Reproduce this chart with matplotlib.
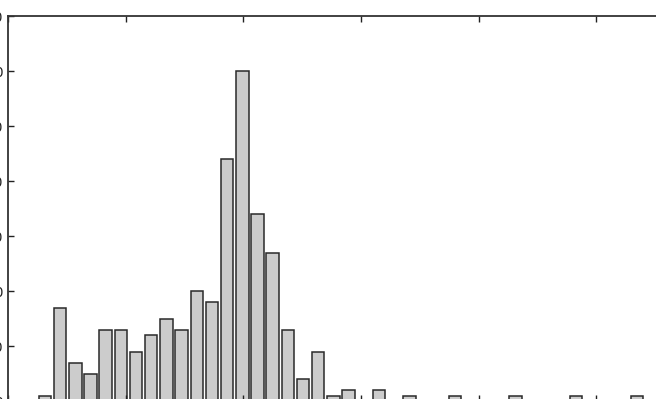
import numpy as np
import matplotlib.pyplot as plt

# histogram counts per bin (40 bins)
counts = [1, 17, 7, 5, 13, 13, 9, 12, 15, 13,
          20, 18, 44, 60, 34, 27, 13, 4, 9, 1,
          2, 0, 2, 0, 1, 0, 0, 1, 0, 0,
          0, 1, 0, 0, 0, 1, 0, 0, 0, 1]
bin_start = 0.25
bin_width = 0.129
yticks = [0, 10, 20, 30, 40, 50, 60, 70]
xticks = [0, 1, 2, 3, 4, 5, 6]

edges = bin_start + bin_width * np.arange(len(counts) + 1)
centers = (edges[:-1] + edges[1:]) / 2

fig = plt.figure(figsize=(6.56, 3.99), dpi=100)
W, H = 656.0, 399.0
# axes box runs past the image edges (cropped figure)
ax = fig.add_axes([8 / W, 1 - 401 / H, 706 / W, 385 / H])

ax.bar(centers, counts, width=bin_width * 0.82, color='#cccccc',
       edgecolor='#2a2a2a', linewidth=1.1)

ax.set_xlim(0, 6)
ax.set_ylim(0, 70)
ax.set_xticks(xticks)
ax.set_yticks(yticks)
ax.tick_params(direction='in', length=4, width=1, top=True, right=True,
               labelsize=10, pad=3.5, colors='#222222', labelbottom=False)
for s in ax.spines.values():
    s.set_linewidth(1.3)
    s.set_color('#333333')

fig.savefig('out.png', dpi=100)
